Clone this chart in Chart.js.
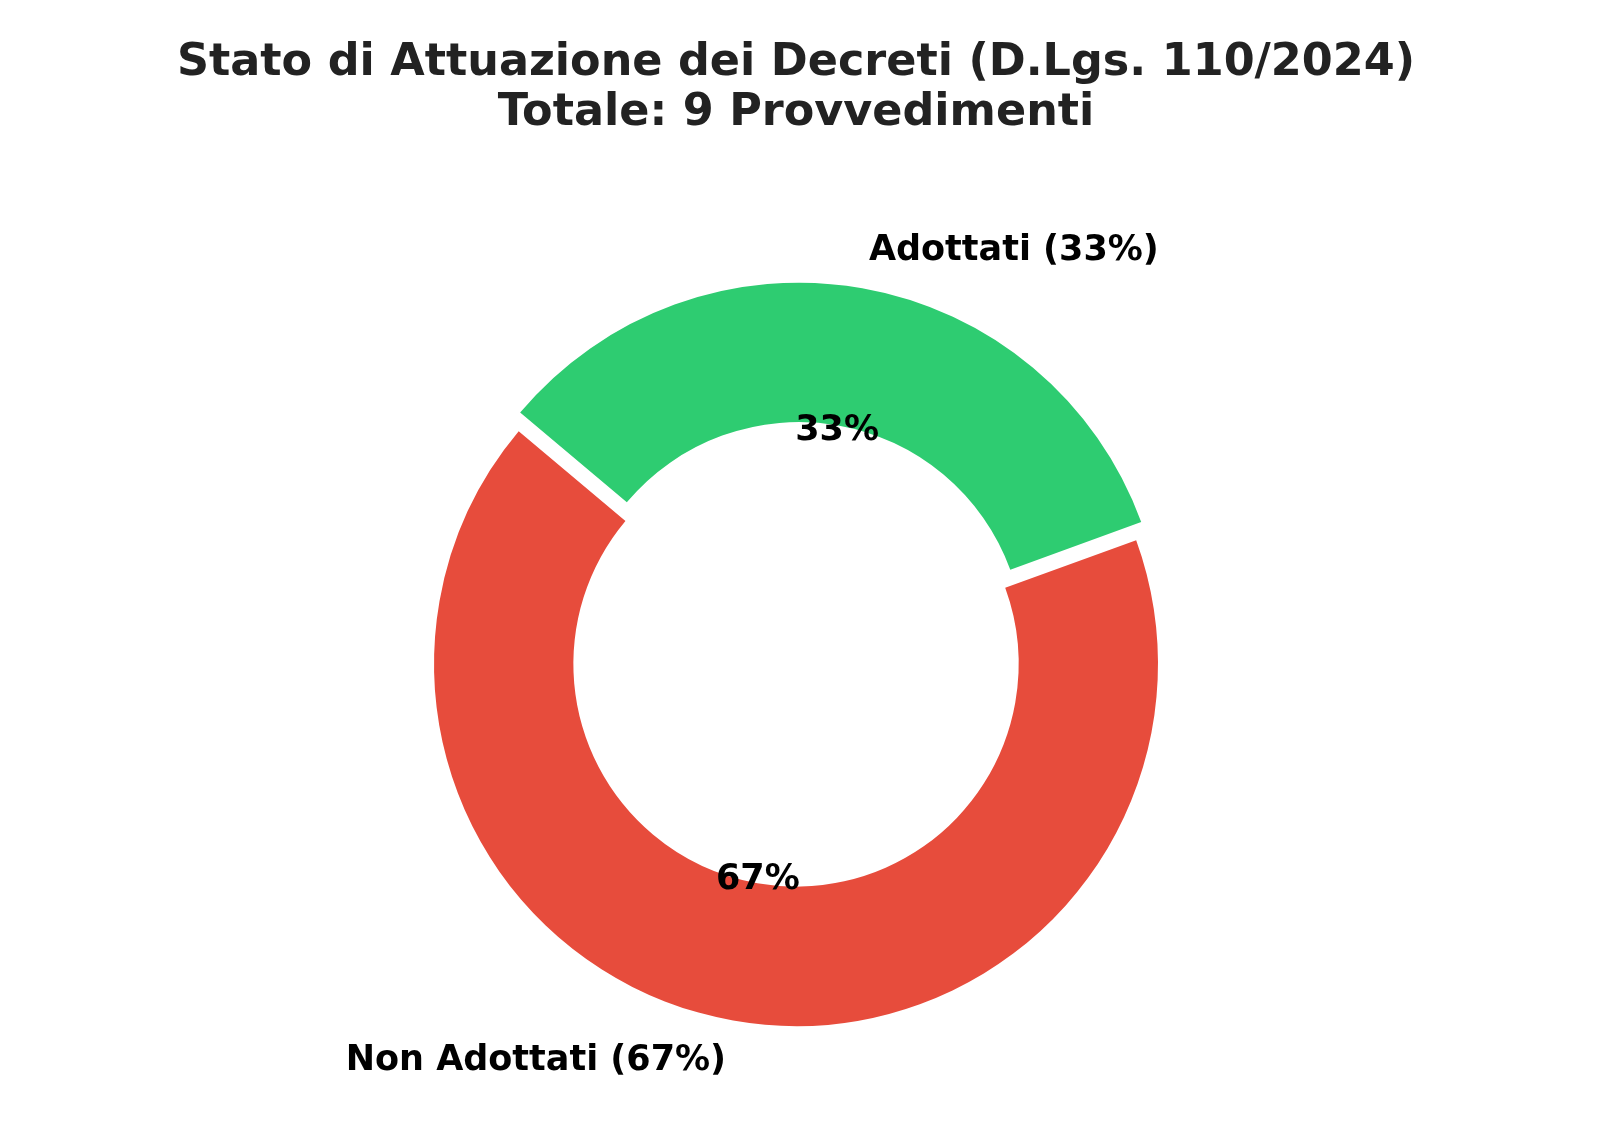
<!DOCTYPE html>
<html>
<head>
<meta charset="utf-8">
<script src="https://cdn.jsdelivr.net/npm/chart.js@4.4.1/dist/chart.umd.min.js"></script>
<style>
  html, body { margin: 0; padding: 0; background: #ffffff; overflow: hidden; }
  #wrap { position: relative; width: 1600px; height: 1143px; }
</style>
</head>
<body>
<div id="wrap"><canvas id="statoChart"></canvas></div>
<script>
const categories = ["Adottati", "Non Adottati"];
const values = [3, 6];
const sliceColors = ["#2ecc71", "#e74c3c"];

const total = values.reduce((a, b) => a + b, 0);
const pct = values.map(v => Math.round(v / total * 100));

// matplotlib-style labels: names outside the ring, percentages inside it
const sliceLabels = {
    id: "sliceLabels",
    afterDatasetsDraw(chart) {
        const ctx = chart.ctx;
        const arcs = chart.getDatasetMeta(0).data;
        ctx.save();
        ctx.fillStyle = "#000000";
        ctx.font = "bold 35px 'DejaVu Sans'";
        arcs.forEach((arc, i) => {
            const mid = (arc.startAngle + arc.endAngle) / 2;
            const shift = (arc.options.offset || 0) / 4;
            const cx = arc.x + Math.cos(mid) * shift;
            const cy = arc.y + Math.sin(mid) * shift;
            const r = arc.outerRadius;

            const lx = cx + Math.cos(mid) * r * 1.112;
            const ly = cy + Math.sin(mid) * r * 1.112;
            ctx.textAlign = Math.cos(mid) >= 0 ? "left" : "right";
            ctx.textBaseline = "middle";
            ctx.fillText(categories[i] + " (" + pct[i] + "%)", lx, ly);

            const tx = cx + Math.cos(mid) * r * 0.606;
            const ty = cy + Math.sin(mid) * r * 0.606;
            ctx.textAlign = "center";
            ctx.fillText(pct[i] + "%", tx, ty);
        });
        ctx.restore();
    }
};

// where the ring's centre should land on the 1600x1143 page
const W = 1600, H = 1143;
const centerX = 796;
const centerY = 664;
const titleSize = 44.5, titleLine = 1.11, titleTop = 39;
const titleBlock = titleTop + 2 * titleSize * titleLine;
const need = 2 * centerY - H - titleBlock;

new Chart("statoChart", {
    type: "doughnut",
    data: {
        labels: categories,
        datasets: [{
            data: values,
            backgroundColor: sliceColors,
            borderWidth: 0,
            offset: [69, 0]
        }]
    },
    options: {
        responsive: true,
        maintainAspectRatio: false,
        animation: false,
        events: [],
        rotation: -50,
        radius: 362,
        cutout: "61.5%",
        layout: {
            padding: {
                left: 0,
                right: Math.max(W - 2 * centerX, 0),
                top: 0,
                bottom: Math.max(-need, 0)
            }
        },
        plugins: {
            legend: { display: false },
            tooltip: { enabled: false },
            title: {
                display: true,
                text: ["Stato di Attuazione dei Decreti (D.Lgs. 110/2024)", "Totale: " + total + " Provvedimenti"],
                color: "#222222",
                font: { family: "'DejaVu Sans'", size: titleSize, weight: "bold", lineHeight: titleLine },
                padding: { top: titleTop, bottom: Math.max(need, 0) }
            }
        }
    },
    plugins: [sliceLabels]
});
</script>
</body>
</html>
